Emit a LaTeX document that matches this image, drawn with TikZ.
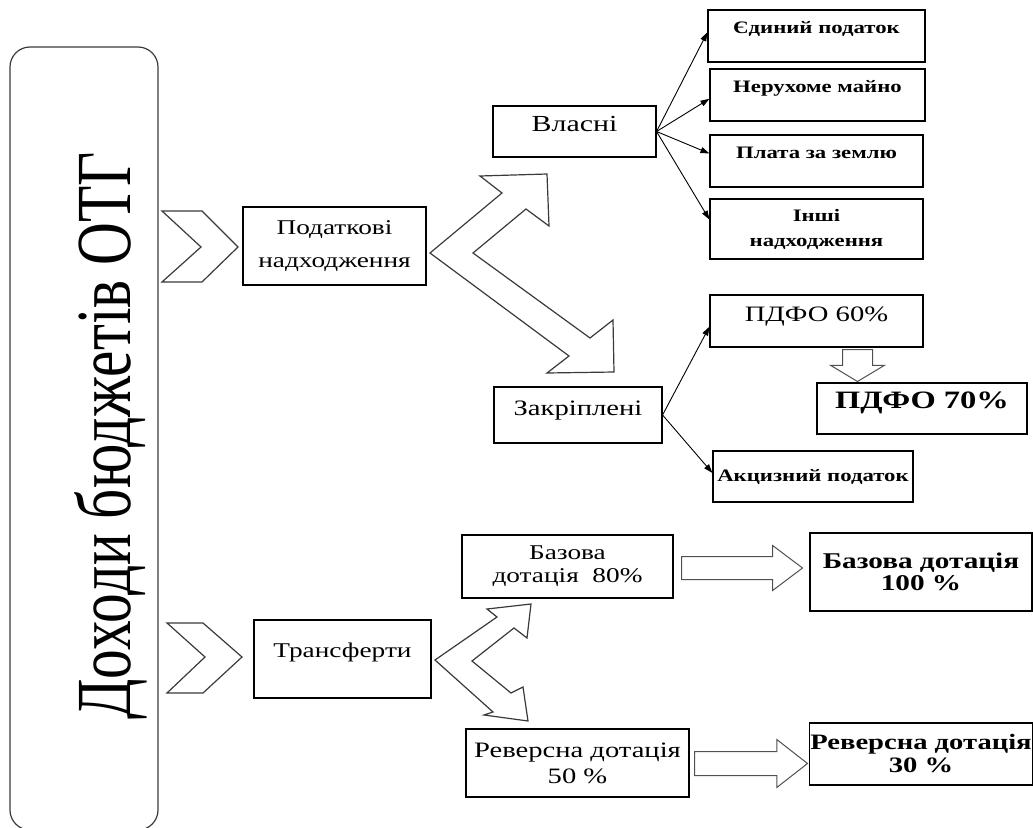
\documentclass[tikz,border=0pt]{standalone}
\usepackage{fontspec}
\setmainfont{Liberation Serif}
\newfontfamily\widefont[FakeStretch=1.3]{Liberation Serif}
\newfontfamily\tallfont[FakeStretch=0.76]{Liberation Serif}
\usetikzlibrary{arrows.meta,shapes.arrows}
\definecolor{edge}{HTML}{3A3A3A}
\definecolor{arrgray}{HTML}{505050}
\tikzset{
  box/.style={draw=black,line width=1.1bp,fill=white,inner sep=1bp,align=center,font=\widefont\fontsize{22bp}{25bp}\selectfont},
  smallbox/.style={box,font=\widefont\bfseries\fontsize{17.5bp}{25bp}\selectfont},
  boldbox/.style={box,font=\widefont\bfseries\fontsize{22.5bp}{22bp}\selectfont},
  uptext/.style={text height=12bp,text depth=12bp},
  smallup/.style={text height=10bp,text depth=15bp},
  shapeline/.style={draw=edge,line width=1.2bp,fill=white,line join=miter},
  fatarrow/.style={single arrow,draw=arrgray,line width=1bp,fill=white,inner xsep=0pt,anchor=tail},
  arr/.style={-{Triangle[length=9bp,width=6bp]},draw=black,line width=0.9bp}
}
\begin{document}
\begin{tikzpicture}[x=1bp,y=-1bp]
\path[use as bounding box] (0,0) rectangle (1033,828);

\node[draw=edge,line width=1.2bp,rounded corners=20bp,minimum width=148bp,minimum height=783bp] (otg) at (84,438.5) {};
\node[rotate=90,font=\tallfont\fontsize{78bp}{80bp}\selectfont] (otgtitle) at (111,436) {Доходи бюджетів ОТГ};

\draw[shapeline] (162,211) -- (202,211) -- (238,247) -- (202,282) -- (162,282) -- (201,247) -- cycle;
\draw[shapeline] (167,623) -- (203,623) -- (242,657) -- (203,693) -- (167,693) -- (205,657) -- cycle;

\node[box,minimum width=183bp,minimum height=78bp,font=\widefont\fontsize{21bp}{33bp}\selectfont] (pn) at (334.5,246) {Податкові\\надходження};
\node[box,text height=11bp,text depth=15bp,minimum width=177bp,minimum height=78bp,font=\widefont\fontsize{21bp}{25bp}\selectfont] (tr) at (342.5,659) {Трансферти};

\draw[shapeline] (430,253) -- (502,193) -- (480,176) -- (547,174) -- (549,226) -- (526,209) -- (473,253) -- (590,338) -- (613,320) -- (614,372) -- (547,373) -- (569,356) -- cycle;
\draw[shapeline] (435,660) -- (497,617) -- (487,609) -- (531,604) -- (527,638) -- (514,628) -- (472,661) -- (511,693) -- (523,687) -- (528,721) -- (484,715) -- (493,712) -- cycle;

\node[box,uptext,minimum width=163bp,minimum height=51bp,font=\widefont\fontsize{23bp}{25bp}\selectfont] (vl) at (574.5,131.5) {Власні};
\node[box,uptext,minimum width=168bp,minimum height=56bp] (zk) at (578,415) {Закріплені};

\node[smallbox,smallup,minimum width=217bp,minimum height=52bp] (ed) at (816.5,36) {Єдиний податок};
\node[smallbox,smallup,minimum width=215bp,minimum height=52bp] (nm) at (817.5,95) {Нерухоме майно};
\node[smallbox,smallup,minimum width=213bp,minimum height=52bp] (pz) at (816.5,161) {Плата за землю};
\node[smallbox,minimum width=213bp,minimum height=60bp] (in) at (816.5,229) {Інші\\надходження};
\draw[arr] (vl.east) -- (ed.178);
\draw[arr] (vl.east) -- (nm.182);
\draw[arr] (vl.east) -- (pz.176);
\draw[arr] (vl.east) -- (in.175);

\node[box,uptext,minimum width=213bp,minimum height=52bp] (p60) at (816.5,321) {ПДФО 60\%};
\node[fatarrow,rotate=-90,inner ysep=14.5bp,minimum height=32bp,single arrow head extend=12bp,single arrow tip angle=118] (dn) at (857.5,349) {};
\node[box,uptext,font=\widefont\bfseries\fontsize{25bp}{27bp}\selectfont,minimum width=210bp,minimum height=51bp] (p70) at (922,408.5) {ПДФО 70\%};
\node[smallbox,minimum width=200bp,minimum height=51bp] (akc) at (813,476.5) {Акцизний податок};
\draw[arr] (zk.east) -- (p60.183);
\draw[arr] (zk.east) -- (akc.178);

\node[box,minimum width=211bp,minimum height=63bp,font=\widefont\fontsize{21bp}{23bp}\selectfont] (b80) at (567.5,566.5) {Базова\\дотація~ 80\%};
\node[fatarrow,inner ysep=11bp,minimum height=121bp,single arrow head extend=11bp,single arrow tip angle=74] (ba) at (681,568) {};
\node[boldbox,minimum width=222bp,minimum height=78bp] (b100) at (921,572) {Базова дотація\\100 \%};

\node[box,minimum width=223bp,minimum height=68bp,font=\widefont\fontsize{22bp}{26bp}\selectfont] (r50) at (577.5,763) {Реверсна дотація\\50 \%};
\node[fatarrow,inner ysep=11.5bp,minimum height=113bp,single arrow head extend=12bp,single arrow tip angle=76] (ra) at (694,763.5) {};
\node[boldbox,minimum width=222bp,minimum height=62bp,font=\widefont\bfseries\fontsize{22bp}{23bp}\selectfont] (r30) at (921,754) {Реверсна дотація\\30 \%};
\end{tikzpicture}
\end{document}
